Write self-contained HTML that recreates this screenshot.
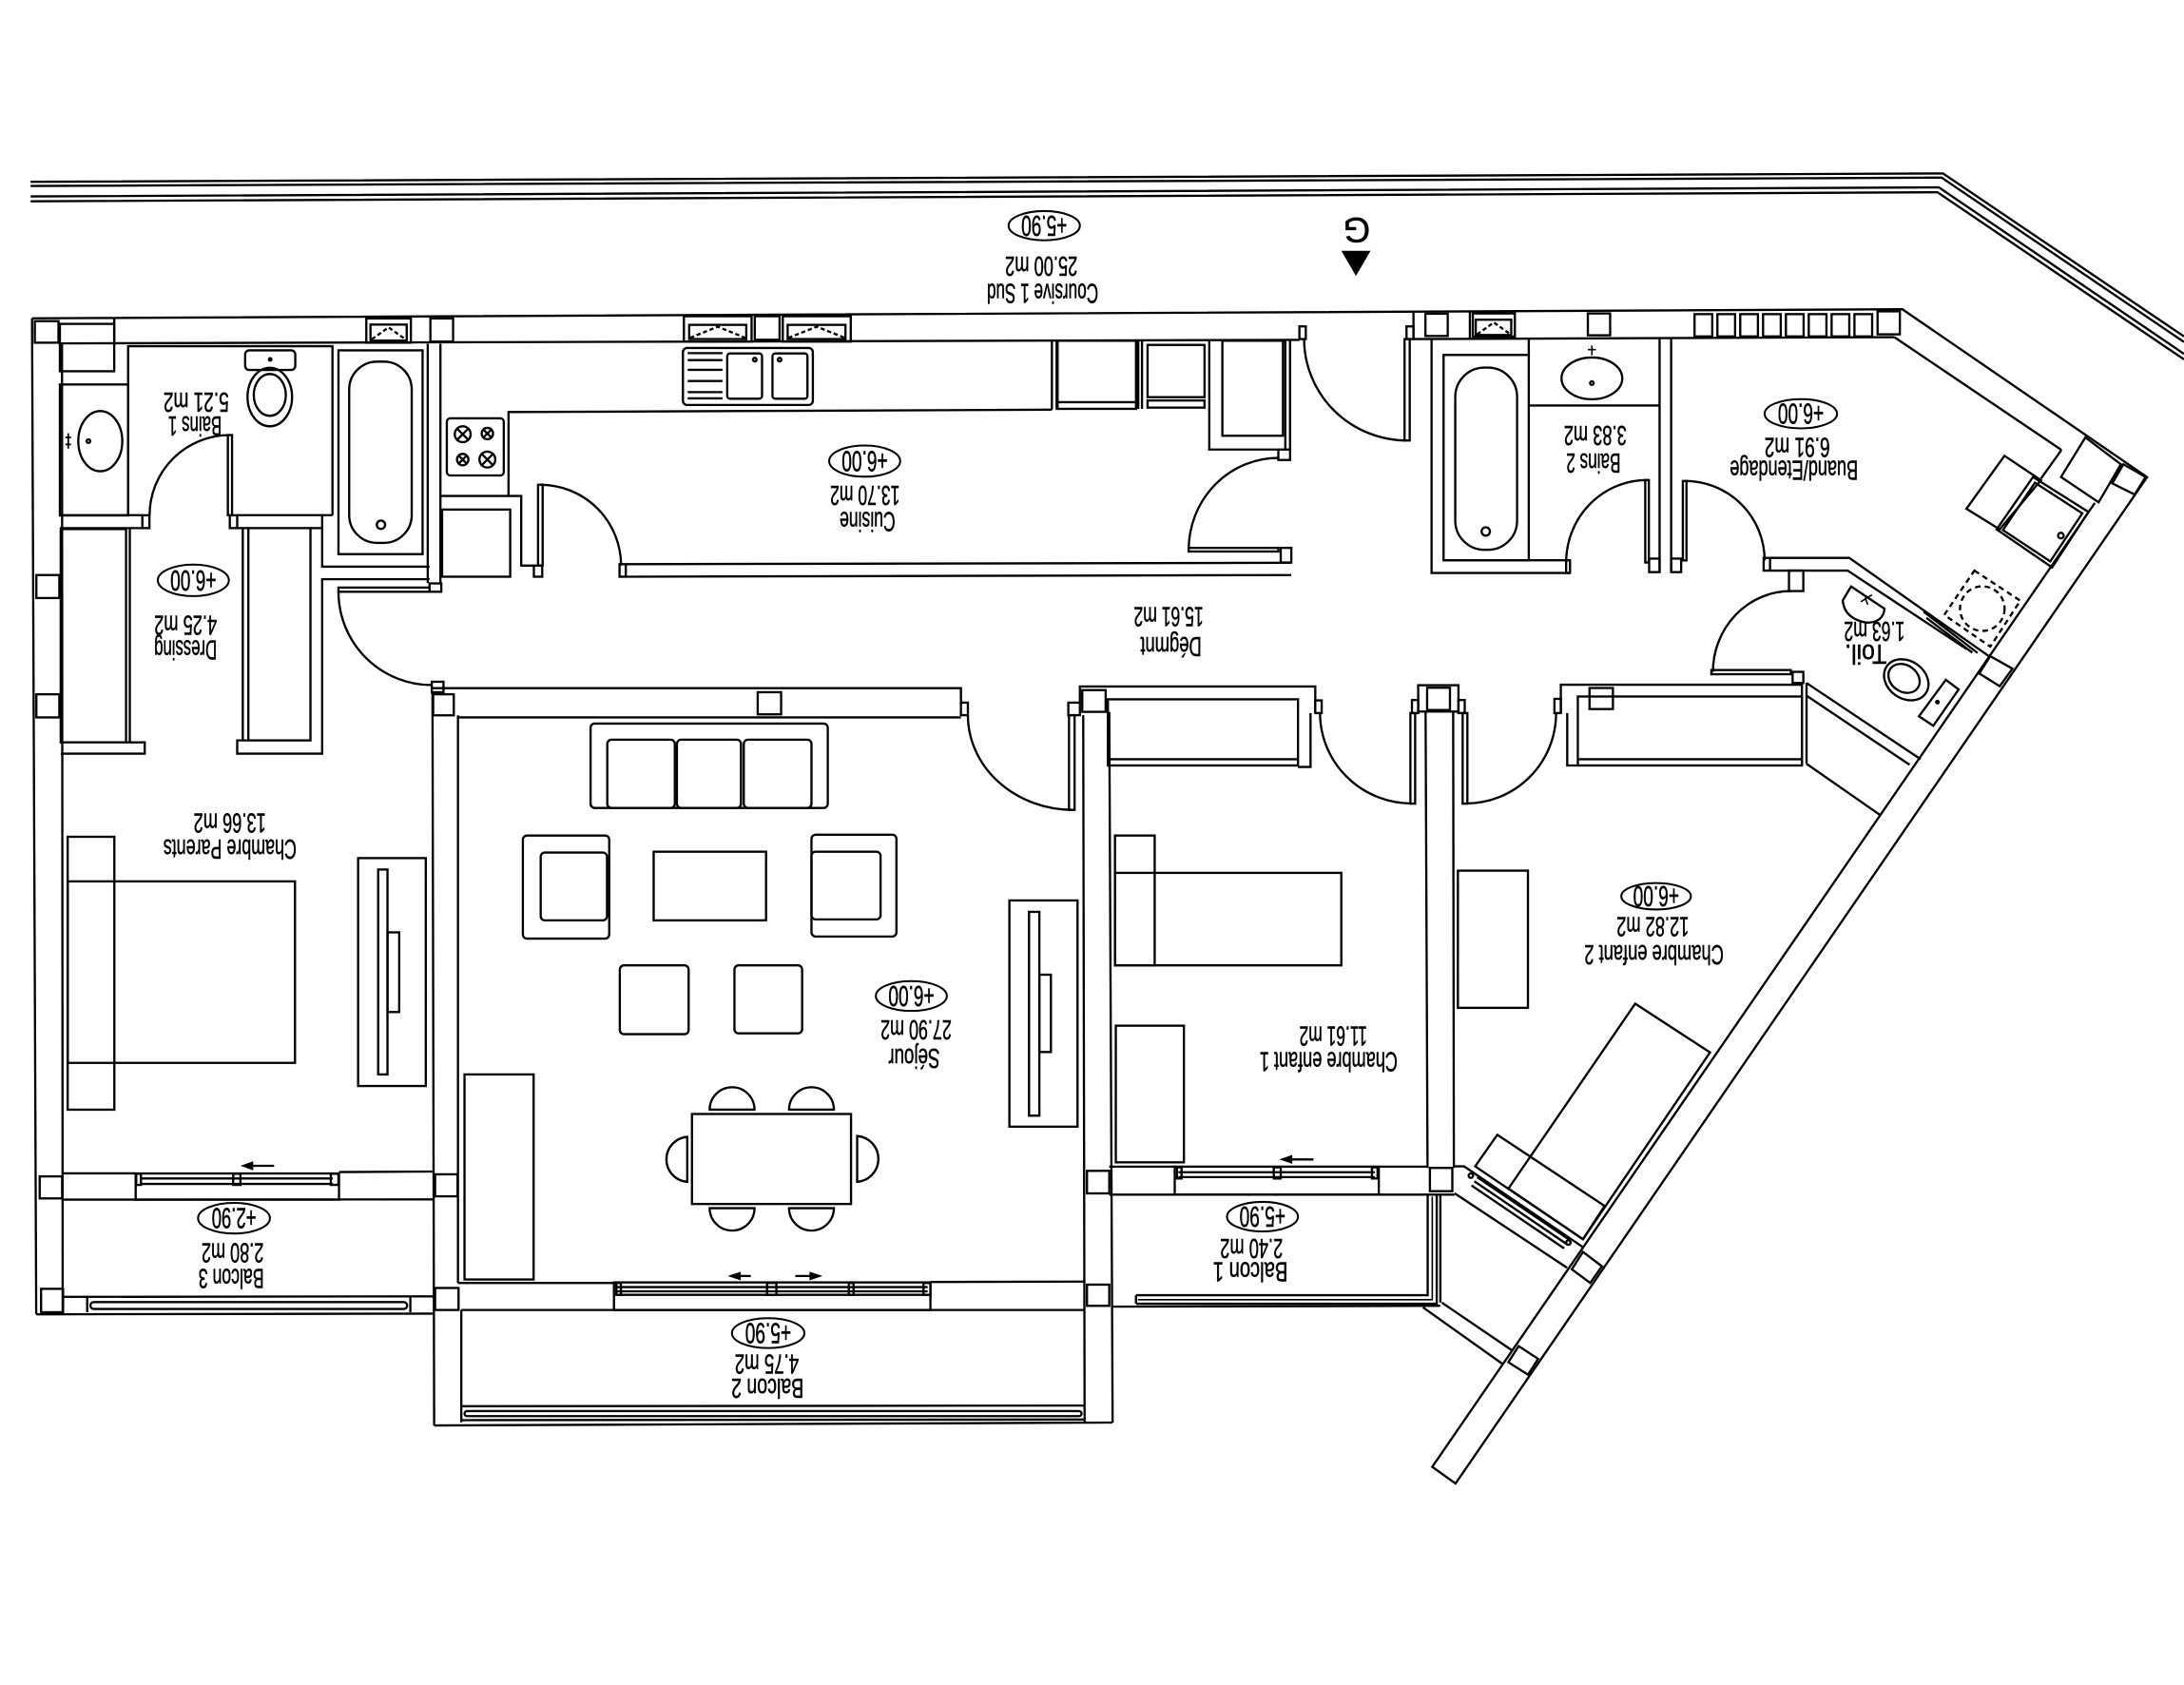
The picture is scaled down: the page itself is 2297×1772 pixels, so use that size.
<!DOCTYPE html>
<html><head><meta charset="utf-8">
<style>
html,body{margin:0;padding:0;background:#fff;}
svg{display:block;}
text{font-family:"Liberation Sans Narrow","Liberation Sans",sans-serif;fill:#000;stroke:#000;stroke-width:0.35;text-anchor:middle;dominant-baseline:central;}
</style></head><body>
<svg xmlns="http://www.w3.org/2000/svg" width="2297" height="1772" viewBox="0 0 1568 1209.6">
<rect width="1568" height="1209.6" fill="#fff"/>
<g fill="none" stroke="#000" stroke-width="1.6">
<!-- railing -->
<polyline points="22,130.5 1395,124.5 1568,241.5"/>
<polyline points="22,133.5 1394,127.5 1568,245.5"/>
<polyline points="22,141 1392,134.5 1568,254"/>
<polyline points="22,144.5 1391,138 1568,258"/>

<!-- outer shell -->
<polyline points="23,228.5 1365.8,222 1541.5,342.5 1045,1065 1028.3,1053 1504,361"/>
<line x1="23" y1="228.5" x2="26" y2="943.5"/>
<line x1="44.5" y1="246" x2="45" y2="942"/>
<line x1="26" y1="943.5" x2="311.7" y2="943"/>
<!-- top wall inner -->
<line x1="42" y1="246.5" x2="933" y2="244"/>
<line x1="1014.8" y1="243.4" x2="1360" y2="242"/>
<line x1="1360" y1="242" x2="1480" y2="323"/>
<line x1="1480" y1="323" x2="1465.3" y2="343.6"/>

<!-- columns -->
<rect x="25" y="230.5" width="17" height="15.5"/>
<rect x="26.1" y="412.8" width="16.5" height="16.5"/>
<rect x="26.1" y="498.4" width="16.5" height="16.6"/>
<rect x="28.5" y="844.5" width="16.1" height="15.8"/>
<rect x="29.5" y="925.2" width="15.8" height="16.8"/>
<rect x="309" y="228.6" width="16.3" height="16.6"/>
<rect x="311" y="498.4" width="14.8" height="15.1"/>
<rect x="312.4" y="843" width="16.1" height="15.8"/>
<rect x="312.4" y="924.6" width="16.8" height="15.8"/>
<rect x="541.9" y="227" width="17.8" height="16.9"/>
<rect x="544" y="496.9" width="16.8" height="15.9"/>
<rect x="777" y="495.4" width="16.8" height="15.6"/>
<rect x="780.4" y="840.5" width="16" height="16.2"/>
<rect x="780.4" y="922.2" width="16" height="15.2"/>
<rect x="1023.4" y="225.2" width="16" height="16"/>
<rect x="1018.2" y="491.9" width="28.9" height="18.9"/>
<rect x="1024.6" y="493.7" width="16.4" height="16"/>
<rect x="1026.6" y="838.4" width="16.1" height="16.7"/>
<rect x="1140" y="225" width="16" height="15.7"/>
<rect x="1141.2" y="493.9" width="16.8" height="15.1"/>
<rect x="1348" y="223.5" width="16" height="16.5"/>
<polygon points="1497.2,314 1522.7,333.3 1506.7,360.6 1479.7,342.4"/>
<polygon points="1524.5,333.3 1540.4,342.4 1532.6,355 1516.5,347"/>
<polygon points="1428.9,471 1444.8,480 1435.7,492.6 1421,483.5"/>
<polygon points="1136.5,898.7 1150.1,909 1141.7,921 1128.5,911.2"/>
<polygon points="1090.3,966.3 1104.3,975.5 1097,986.8 1082.9,977.9"/>

<!-- vents -->
<rect x="1216.6" y="225.5" width="12.7" height="16"/>
<rect x="1233" y="225.5" width="12.7" height="16"/>
<rect x="1249.4" y="225.5" width="12.7" height="16"/>
<rect x="1265.8" y="225.5" width="12.7" height="16"/>
<rect x="1282.2" y="225.5" width="12.7" height="16"/>
<rect x="1298.6" y="225.5" width="12.7" height="16"/>
<rect x="1315" y="225.5" width="12.7" height="16"/>
<rect x="1331.4" y="225.5" width="12.7" height="16"/>

<!-- top windows -->
<rect x="263" y="228.6" width="32" height="17.4"/>
<rect x="266" y="233" width="26" height="11.5"/>
<polyline points="267,243.5 279,235 291,243.5" stroke-dasharray="3,2"/>
<rect x="491" y="227" width="48.6" height="18.2"/>
<rect x="494.8" y="233.2" width="41" height="10.2"/>
<polyline points="495.5,242.5 515.3,234.5 535,242.5" stroke-dasharray="3,2"/>
<rect x="562" y="227" width="48.8" height="18.2"/>
<rect x="565.5" y="233.2" width="41.5" height="10.2"/>
<polyline points="566,242.5 586.4,234.5 606.5,242.5" stroke-dasharray="3,2"/>
<rect x="1057.4" y="225" width="30.2" height="16.6"/>
<rect x="1059.5" y="229.5" width="25.5" height="11"/>
<polyline points="1060.5,240 1072.5,231.5 1084.5,240" stroke-dasharray="3,2"/>
<line x1="82" y1="228" x2="82" y2="246.5"/>

<!-- Bains 1 -->
<polyline points="92,369.8 92,248.5 238.7,248.5 238.7,369.8"/>
<rect x="43" y="232.5" width="39" height="34"/>
<rect x="43" y="276" width="49" height="94"/>
<ellipse cx="72" cy="316.7" rx="15.8" ry="21.6"/>
<circle cx="63.5" cy="316.7" r="1.3"/>
<path d="M49,311 V322 M47,314 H51 M47,319 H51" stroke-width="1.2"/>
<rect x="176" y="251.5" width="36" height="14.1" rx="3"/>
<circle cx="194" cy="258" r="0.9" fill="#000"/>
<ellipse cx="193.7" cy="285" rx="16" ry="21"/>
<ellipse cx="193.7" cy="283.5" rx="11.5" ry="15"/>
<rect x="243" y="251.5" width="60.4" height="146.3"/>
<rect x="250.7" y="259.6" width="44.9" height="130.1" rx="20"/>
<circle cx="273.5" cy="376.7" r="3"/>
<polyline points="231.3,369.8 231.3,406.8 308.4,406.8"/>
<line x1="43" y1="369.8" x2="102.2" y2="369.8"/>
<line x1="43" y1="379.1" x2="102.2" y2="379.1"/>
<rect x="102.2" y="369.9" width="5.1" height="9.2"/>
<rect x="165" y="369.9" width="5.3" height="9.2"/>
<line x1="170.3" y1="369.8" x2="238.7" y2="369.8"/>
<line x1="170.3" y1="379.1" x2="178.3" y2="379.1"/>
<line x1="222.9" y1="379.1" x2="231.3" y2="379.1"/>
<rect x="163.6" y="312.3" width="3" height="57.6"/>
<path d="M165,312.3 A57.6,57.6 0 0 0 107.4,369.9"/>
<line x1="307.1" y1="246.8" x2="307.1" y2="418.6"/>
<line x1="316.2" y1="246.8" x2="316.2" y2="418.6"/>

<!-- Dressing -->
<rect x="43.6" y="379.8" width="46.9" height="153.1"/>
<line x1="93.2" y1="379.8" x2="93.2" y2="532.9"/>
<polyline points="90.5,532.9 103.9,532.9 103.9,541 43.6,541"/>
<rect x="178.3" y="379.1" width="44.6" height="152.4"/>
<line x1="174.3" y1="379.1" x2="174.3" y2="531.5"/>
<polyline points="178.3,531.5 170.3,531.5 170.3,541 231.3,541 231.3,415.8 308.4,415.8"/>
<!-- parents door -->
<rect x="308.4" y="418.8" width="8.4" height="6"/>
<rect x="310" y="489.4" width="8.4" height="7.5"/>
<rect x="243" y="421.8" width="65.4" height="3"/>
<path d="M243,424.8 A67,67 0 0 0 310,491.8"/>

<!-- Kitchen -->
<rect x="320.8" y="300.3" width="40.9" height="41" rx="2.5"/>
<circle cx="332.2" cy="311.7" r="5.7"/><path d="M328.2,307.7 L336.2,315.7 M336.2,307.7 L328.2,315.7"/>
<circle cx="349.9" cy="311.2" r="4.1"/><path d="M347,308.3 L352.8,314.1 M352.8,308.3 L347,314.1"/>
<circle cx="332.2" cy="329.9" r="4.1"/><path d="M329.3,327 L335.1,332.8 M335.1,327 L329.3,332.8"/>
<circle cx="349.9" cy="329.9" r="5.7"/><path d="M345.9,325.9 L353.9,333.9 M353.9,325.9 L345.9,333.9"/>
<polyline points="755.2,294.1 365.1,295.8 365.1,356 316.2,356"/>
<polyline points="365.1,356 374.2,356 374.2,406 383.3,406"/>
<rect x="317.4" y="365.8" width="48.9" height="48.2"/>
<rect x="383.3" y="406" width="6" height="8"/>
<rect x="386.3" y="348" width="3.3" height="58"/>
<path d="M387.9,348 A58,58 0 0 1 445.9,406"/>
<rect x="444.8" y="405" width="4.5" height="9"/>
<line x1="449.3" y1="405" x2="927" y2="404"/>
<line x1="449.3" y1="414" x2="927" y2="412.8"/>
<rect x="490.3" y="249.8" width="93.3" height="40.9" rx="3"/>
<path d="M493.7,253.5 H518.7 M493.7,258.5 H518.7 M493.7,265.5 H518.7 M493.7,273.5 H518.7 M493.7,281.5 H518.7 M493.7,286 H518.7"/>
<rect x="522.1" y="253.7" width="25" height="32.5" rx="2"/>
<rect x="554.6" y="253.7" width="25.1" height="32.5" rx="2"/>
<circle cx="541.9" cy="258.2" r="1.3"/>
<circle cx="559.7" cy="258.2" r="1.3"/>
<line x1="755.2" y1="244.6" x2="755.2" y2="294.1"/>
<line x1="758.6" y1="244.6" x2="758.6" y2="294.1"/>
<rect x="759.3" y="244.6" width="56.3" height="48.9"/>
<line x1="759.3" y1="288.7" x2="815.6" y2="288.7"/>
<line x1="817.2" y1="244.6" x2="817.2" y2="293.5"/>
<line x1="819.9" y1="244.6" x2="819.9" y2="293.5"/>
<rect x="823.9" y="247.6" width="40.9" height="37.5"/>
<rect x="823.9" y="287.5" width="40.9" height="5.1"/>
<polyline points="868.2,244.6 868.2,322.7 917.8,322.7"/>
<rect x="877.6" y="244.6" width="43.5" height="68.2"/>
<line x1="922.8" y1="244.6" x2="922.8" y2="322.7"/>
<line x1="926.2" y1="244.6" x2="926.2" y2="322.7"/>
<rect x="917.8" y="322.7" width="8.4" height="7.5"/>
<rect x="853.4" y="393.3" width="64.4" height="2.6"/>
<path d="M917.8,328.7 A64.4,66 0 0 0 853.4,394.8"/>
<rect x="919.5" y="393.3" width="7.6" height="10.5"/>

<!-- Entrance -->
<rect x="932.9" y="234.3" width="4.6" height="9.1"/>
<rect x="1009.8" y="234.3" width="5" height="9.1"/>
<line x1="1014.8" y1="223.4" x2="1014.8" y2="243.4"/>
<line x1="1055.3" y1="223.4" x2="1055.3" y2="243.4"/>
<rect x="1008.4" y="243.4" width="3.7" height="72.8"/>
<path d="M936.3,243.4 A74,72.8 0 0 0 1010.3,316.2"/>

<!-- Bains 2 -->
<polyline points="1027.8,243.4 1027.8,411.3 1127,411.3"/>
<rect x="1036.4" y="254.8" width="61.2" height="147.4"/>
<rect x="1044.8" y="263.9" width="44.4" height="130.8" rx="21"/>
<circle cx="1066.7" cy="381.5" r="3"/>
<line x1="1036.4" y1="402.2" x2="1124.4" y2="402.2"/>
<rect x="1124.4" y="402.2" width="2.8" height="9.1"/>
<line x1="1097.6" y1="242.5" x2="1097.6" y2="254.8"/>
<line x1="1097.6" y1="291.1" x2="1191.5" y2="291.1"/>
<ellipse cx="1142.9" cy="271.6" rx="21.8" ry="15"/>
<circle cx="1142.9" cy="275" r="1.3"/>
<path d="M1142.9,248 V255 M1140,251 H1145.8" stroke-width="1.1"/>
<line x1="1191.5" y1="242.5" x2="1191.5" y2="410.7"/>
<line x1="1199.8" y1="242.5" x2="1199.8" y2="410.7"/>
<rect x="1184" y="401" width="7.5" height="9.7"/>
<rect x="1199.8" y="401" width="7.2" height="9.7"/>
<rect x="1181.2" y="344.6" width="2.6" height="59.2"/>
<path d="M1182.4,344.6 A58,59.2 0 0 0 1124.4,403.8"/>
<rect x="1208.2" y="345.3" width="2.6" height="57"/>
<path d="M1209.9,345.3 A57,57 0 0 1 1266.9,402.3"/>

<!-- Buand / toilet -->
<rect x="1266.2" y="400.5" width="4.6" height="9.1"/>
<polyline points="1270.8,400.5 1327.7,400.5 1428.3,471.3"/>
<polyline points="1270.8,409.6 1326.5,409.6 1412,466"/>
<rect x="1284.4" y="409.6" width="10.3" height="14.7"/>
<line x1="1381.1" y1="439.1" x2="1419.8" y2="468.7"/>
<line x1="1383" y1="443.5" x2="1416" y2="468.5"/>
<polygon points="1439.1,327.2 1465.3,344.7 1435.7,380 1411.8,365.2"/>
<polygon points="1459.6,342.4 1499.4,367.5 1473.3,407.3 1433.5,380"/>
<polygon points="1461,346.5 1495,368.5 1472,403 1438,380.5"/>
<circle cx="1479.6" cy="384.5" r="2"/>
<polygon points="1417.5,409.6 1450.5,431.2 1428.9,464.2 1395.9,441.4" stroke-dasharray="4,3"/>
<circle cx="1423.2" cy="436.9" r="16" stroke-dasharray="4,3"/>
<rect x="1228.7" y="481" width="57" height="3"/>
<path d="M1229.8,482.3 A56,58 0 0 1 1285.6,424.3"/>
<rect x="1287" y="482.3" width="7.7" height="8"/>
<path d="M1329,421 L1353,437 Q1352,447 1340,447 Q1324,444 1323,431 Z"/>
<path d="M1336,432 L1344,427 M1339,429 L1341,434" stroke-width="1.1"/>
<ellipse cx="1368.6" cy="488" rx="17" ry="13.5" transform="rotate(35 1368.6 488)"/>
<ellipse cx="1367" cy="487" rx="12" ry="9.5" transform="rotate(35 1367 487)"/>
<polygon points="1377.7,514.2 1397,488 1406.2,494.9 1388,521"/>
<circle cx="1391" cy="504" r="0.9" fill="#000"/>
<line x1="1293.7" y1="490.3" x2="1293.7" y2="549.5"/>
<line x1="1297" y1="490.3" x2="1297" y2="548.3"/>
<line x1="1297" y1="490.3" x2="1378.9" y2="545"/>
<line x1="1297" y1="499.4" x2="1371" y2="549"/>
<line x1="1297" y1="548.3" x2="1349.3" y2="584.7"/>

<!-- Chambre enfant 2 top -->
<rect x="1116" y="501.7" width="4.6" height="10.2"/>
<polyline points="1120.6,511.9 1120.6,491.5 1293.7,491.5"/>
<polyline points="1125.2,511.9 1125.2,549.5 1132.8,549.5"/>
<rect x="1132.8" y="500" width="160.9" height="49.5"/>
<line x1="1132.8" y1="545" x2="1293.7" y2="545"/>
<rect x="1050.1" y="511.9" width="3.4" height="65"/>
<path d="M1052.4,576.8 A64.8,64.9 0 0 0 1117.2,511.9"/>
<rect x="1047.1" y="502.5" width="4.5" height="9.4"/>
<rect x="1013.7" y="502.5" width="4.5" height="9.4"/>
<line x1="1023.5" y1="510.8" x2="1024.9" y2="838.4"/>
<line x1="1043.3" y1="510.8" x2="1043.8" y2="838.4"/>

<!-- Chambre enfant 1 top -->
<rect x="767" y="504.4" width="8.3" height="9"/>
<polyline points="775.3,504.4 775.3,492.8 944.3,492.8 944.3,511.9"/>
<rect x="944.3" y="502.8" width="4.6" height="9.1"/>
<rect x="795.4" y="502" width="136.5" height="47.5"/>
<line x1="795.4" y1="545" x2="931.9" y2="545"/>
<polyline points="931.9,550.6 940.9,550.6 940.9,511.9"/>
<rect x="1012.6" y="511.9" width="3.4" height="65"/>
<path d="M947.7,511.9 A66,65 0 0 0 1013.7,576.8"/>

<!-- Séjour walls -->
<line x1="310.5" y1="496.9" x2="311.7" y2="1023.3"/>
<line x1="328.8" y1="513.5" x2="328.8" y2="921"/>
<line x1="331.2" y1="940.4" x2="331.2" y2="1021"/>
<polyline points="310.5,494 689.9,494 689.9,504.4"/>
<line x1="328.8" y1="515" x2="689.9" y2="515"/>
<rect x="689.9" y="504.4" width="5" height="9"/>
<rect x="767.5" y="513.4" width="4" height="68"/>
<path d="M694.9,513.4 A75.6,68 0 0 0 770.5,581.4"/>
<line x1="777.7" y1="513.4" x2="778.7" y2="1021.2"/>
<line x1="796.4" y1="511" x2="798.8" y2="1021.2"/>
<!-- séjour bottom wall + window -->
<line x1="328.8" y1="921" x2="440.8" y2="921"/>
<line x1="668" y1="920.3" x2="778" y2="920"/>
<line x1="331.2" y1="940.4" x2="778" y2="940.4"/>
<rect x="440.8" y="920.6" width="227.2" height="19.8"/>
<line x1="443" y1="924" x2="666" y2="924"/>
<line x1="443" y1="927" x2="666" y2="927"/>
<line x1="443" y1="929.5" x2="666" y2="929.5"/>
<rect x="442.5" y="921" width="3.3" height="8.5"/>
<rect x="550.7" y="921" width="6.7" height="8.5"/>
<rect x="609.4" y="921" width="3.4" height="8.5"/>
<rect x="663" y="921" width="5" height="8.5"/>
<line x1="526" y1="916" x2="539" y2="916"/>
<polygon points="525,916 531,914 531,918" fill="#000"/>
<line x1="571" y1="916" x2="586" y2="916"/>
<polygon points="588,916 582,914 582,918" fill="#000"/>
<!-- balcon 2 -->
<line x1="311.7" y1="1023.3" x2="798.8" y2="1021.2"/>
<line x1="331.2" y1="1009.5" x2="778.5" y2="1009"/>
<line x1="331.2" y1="1019.5" x2="778.5" y2="1019"/>
<rect x="333.5" y="1013" width="443" height="3.6" rx="1.8"/>

<!-- Chambre parents bottom -->
<line x1="44.5" y1="842.3" x2="97.4" y2="842.3"/>
<line x1="243.4" y1="841.4" x2="311" y2="841"/>
<line x1="44.5" y1="861.2" x2="312" y2="861"/>
<rect x="97.4" y="842.4" width="146" height="18.8"/>
<line x1="101.2" y1="846" x2="238.9" y2="846"/>
<line x1="101.2" y1="849.9" x2="238.9" y2="849.9"/>
<rect x="97.8" y="842.6" width="3.4" height="8"/>
<rect x="167.4" y="842.6" width="5.2" height="8"/>
<rect x="237.5" y="842.6" width="5.5" height="8"/>
<line x1="177" y1="836.9" x2="196.8" y2="836.9"/>
<polygon points="175,836.9 181,834.8 181,839" fill="#000"/>
<!-- balcon 3 -->
<line x1="45" y1="931" x2="311.7" y2="930.6"/>
<line x1="62.6" y1="931.3" x2="62.6" y2="942"/>
<line x1="294.6" y1="931" x2="294.6" y2="942"/>
<rect x="64.9" y="934.7" width="227.4" height="5" rx="2.5"/>

<!-- Chambre enfant 1 bottom -->
<line x1="796.4" y1="837.5" x2="843.4" y2="837.5"/>
<line x1="989.9" y1="837.5" x2="1024.9" y2="837.5"/>
<line x1="796.4" y1="857.6" x2="1044.3" y2="857.6"/>
<rect x="843.4" y="837.5" width="146.5" height="20.1"/>
<line x1="846" y1="841.5" x2="987" y2="841.5"/>
<line x1="846" y1="845" x2="987" y2="845"/>
<rect x="845" y="838" width="3.3" height="8"/>
<rect x="914.5" y="838" width="5" height="8"/>
<rect x="985" y="838" width="4" height="8"/>
<line x1="923" y1="832.3" x2="943" y2="832.3"/>
<polygon points="921,832.3 927,830.2 927,834.4" fill="#000"/>
<!-- balcon 1 -->
<line x1="798.8" y1="938" x2="1034" y2="937.4"/>
<polyline points="815.6,929.8 1025,929.8 1025,857.6"/>
<polyline points="815.6,935.9 1031.5,935.9 1031.5,857.6"/>
<line x1="815.6" y1="929.8" x2="815.6" y2="935.9"/>
<polyline points="817,933 1028.3,933 1028.3,859" stroke-width="1.1"/>
<line x1="1034.1" y1="857.8" x2="1034.1" y2="935"/>
<line x1="1035.2" y1="935.1" x2="1085.7" y2="969.5"/>
<line x1="1021.6" y1="938.5" x2="1079" y2="979.3"/>

<!-- enfant 2 window wall -->
<polyline points="1044.3,837.3 1051.2,837.3 1136.5,895.3"/>
<line x1="1044.3" y1="856.6" x2="1125.1" y2="910.1"/>
<line x1="1060.5" y1="845" x2="1127" y2="890.2"/>
<line x1="1058.5" y1="848" x2="1125" y2="893.2"/>
<line x1="1056.5" y1="851" x2="1123" y2="896.2"/>
<circle cx="1056" cy="844" r="1.6"/>
<circle cx="1126" cy="892" r="1.6"/>

<!-- Chambre parents furniture -->
<rect x="48.6" y="600.7" width="33.5" height="195.9"/>
<rect x="48.6" y="632.7" width="163.2" height="130.3"/>
<rect x="257.1" y="616" width="48.6" height="163.6"/>
<rect x="271.5" y="624.2" width="6.7" height="147.1"/>
<rect x="278.2" y="669.3" width="8.4" height="57.2"/>

<!-- Séjour furniture -->
<rect x="424" y="519.4" width="170.3" height="60.6" rx="3"/>
<rect x="436" y="531" width="48.5" height="49" rx="3"/>
<rect x="486" y="531" width="46" height="49" rx="3"/>
<rect x="534" y="531" width="48.6" height="49" rx="3"/>
<rect x="375.4" y="599.8" width="62" height="74" rx="3"/>
<rect x="388.2" y="612" width="47.6" height="48.7" rx="3"/>
<rect x="582.6" y="599.2" width="61" height="73.1" rx="3"/>
<rect x="582.6" y="611.4" width="49.6" height="48.6" rx="3"/>
<rect x="469.3" y="611.4" width="80.7" height="49.3"/>
<rect x="445" y="693" width="49.4" height="49.4" rx="3"/>
<rect x="527.3" y="693" width="48.6" height="48.8" rx="3"/>
<rect x="496.8" y="799.7" width="114.2" height="64.6"/>
<path d="M509.5,796.6 A16.1,16.1 0 0 1 541.7,796.6 Z"/>
<path d="M566.5,796.6 A16.1,16.1 0 0 1 598.7,796.6 Z"/>
<path d="M509.5,867.3 A16.1,16.1 0 0 0 541.7,867.3 Z"/>
<path d="M566.5,867.3 A16.1,16.1 0 0 0 598.7,867.3 Z"/>
<path d="M493.4,816.1 A16.2,16.2 0 0 0 493.4,848.4 Z"/>
<path d="M615.4,815.5 A16.5,16.5 0 0 1 615.4,848.4 Z"/>
<rect x="724.7" y="646.4" width="48.9" height="162.4"/>
<rect x="738.8" y="654.6" width="7.4" height="146.3"/>
<rect x="746.2" y="699.7" width="8.3" height="55.5"/>
<rect x="333.5" y="771.3" width="49.6" height="147.2"/>

<!-- Enfant 1 furniture -->
<rect x="800.5" y="626.6" width="162.5" height="66.4"/>
<rect x="800.5" y="599.8" width="28.5" height="93.2"/>
<rect x="801.1" y="736.3" width="48.9" height="98.1"/>

<!-- Enfant 2 furniture -->
<rect x="1046.7" y="625" width="50.3" height="98.5"/>
<polygon points="1174,720.5 1227.7,755.5 1136.5,889.6 1083,853.2"/>
<polygon points="1059.1,837.3 1075,814.6 1152,865.7 1136.5,889.6"/>

<!-- label ellipses -->
<g stroke-width="1.4">
<ellipse cx="749.7" cy="162" rx="25.6" ry="10.5"/>
<ellipse cx="620.8" cy="331" rx="25.5" ry="11.2"/>
<ellipse cx="138.8" cy="416.6" rx="25.5" ry="11.3"/>
<ellipse cx="1292.9" cy="297" rx="26" ry="10.5"/>
<ellipse cx="168" cy="874.5" rx="25.8" ry="11"/>
<ellipse cx="654.3" cy="715" rx="25.5" ry="10.7"/>
<ellipse cx="906.4" cy="873.4" rx="25.5" ry="10.6"/>
<ellipse cx="551.5" cy="957" rx="26" ry="10.7"/>
<ellipse cx="1189" cy="643.4" rx="25" ry="9.5"/>
</g>
</g>
<polygon points="963,180 984,180 973.5,198" fill="#000"/>

<!-- texts (upside down) -->
<g font-size="19.5">
<text x="974" y="165" font-size="25" transform="rotate(180 974 165)">G</text>
<text x="749.7" y="162" font-size="21" textLength="33" lengthAdjust="spacingAndGlyphs" transform="rotate(180 749.7 162)">+5.90</text>
<text x="747.6" y="190.5" textLength="52" lengthAdjust="spacingAndGlyphs" transform="rotate(180 747.6 190.5)">25.00 m2</text>
<text x="748.5" y="210" textLength="80" lengthAdjust="spacingAndGlyphs" transform="rotate(180 748.5 210)">Coursive 1 Sud</text>

<text x="620.8" y="331" font-size="21" textLength="33" lengthAdjust="spacingAndGlyphs" transform="rotate(180 620.8 331)">+6.00</text>
<text x="621" y="355" textLength="50" lengthAdjust="spacingAndGlyphs" transform="rotate(180 621 355)">13.70 m2</text>
<text x="622.8" y="373.7" textLength="40" lengthAdjust="spacingAndGlyphs" transform="rotate(180 622.8 373.7)">Cuisine</text>

<text x="839" y="442" textLength="50" lengthAdjust="spacingAndGlyphs" transform="rotate(180 839 442)">15.61 m2</text>
<text x="840.7" y="463.6" textLength="44" lengthAdjust="spacingAndGlyphs" transform="rotate(180 840.7 463.6)">Dégmnt</text>

<text x="140.8" y="288" textLength="47" lengthAdjust="spacingAndGlyphs" transform="rotate(180 140.8 288)">5.21 m2</text>
<text x="140" y="305" textLength="38.5" lengthAdjust="spacingAndGlyphs" transform="rotate(180 140 305)">Bains 1</text>

<text x="138.8" y="416.6" font-size="21" textLength="33" lengthAdjust="spacingAndGlyphs" transform="rotate(180 138.8 416.6)">+6.00</text>
<text x="133.2" y="448" textLength="45" lengthAdjust="spacingAndGlyphs" transform="rotate(180 133.2 448)">4.25 m2</text>
<text x="133.2" y="466" textLength="45" lengthAdjust="spacingAndGlyphs" transform="rotate(180 133.2 466)">Dressing</text>

<text x="1145.3" y="312" textLength="45" lengthAdjust="spacingAndGlyphs" transform="rotate(180 1145.3 312)">3.83 m2</text>
<text x="1144" y="331.7" textLength="39" lengthAdjust="spacingAndGlyphs" transform="rotate(180 1144 331.7)">Bains 2</text>

<text x="1292.9" y="297" font-size="21" textLength="33" lengthAdjust="spacingAndGlyphs" transform="rotate(180 1292.9 297)">+6.00</text>
<text x="1290.3" y="320.5" textLength="47" lengthAdjust="spacingAndGlyphs" transform="rotate(180 1290.3 320.5)">6.91 m2</text>
<text x="1287.9" y="337" textLength="92" lengthAdjust="spacingAndGlyphs" transform="rotate(180 1287.9 337)">Buand/Etendage</text>

<text x="1345.7" y="452.6" textLength="43.6" lengthAdjust="spacingAndGlyphs" transform="rotate(180 1345.7 452.6)">1.63 m2</text>
<text x="1339.5" y="469" textLength="30" lengthAdjust="spacingAndGlyphs" transform="rotate(180 1339.5 469)">Toil.</text>

<text x="165" y="590" textLength="52" lengthAdjust="spacingAndGlyphs" transform="rotate(180 165 590)">13.66 m2</text>
<text x="165.1" y="609" textLength="95.6" lengthAdjust="spacingAndGlyphs" transform="rotate(180 165.1 609)">Chambre Parents</text>

<text x="168" y="874.5" font-size="21" textLength="32" lengthAdjust="spacingAndGlyphs" transform="rotate(180 168 874.5)">+2.90</text>
<text x="167" y="898.5" textLength="44.6" lengthAdjust="spacingAndGlyphs" transform="rotate(180 167 898.5)">2.80 m2</text>
<text x="166" y="917" textLength="47" lengthAdjust="spacingAndGlyphs" transform="rotate(180 166 917)">Balcon 3</text>

<text x="654.3" y="715" font-size="21" textLength="33" lengthAdjust="spacingAndGlyphs" transform="rotate(180 654.3 715)">+6.00</text>
<text x="657.7" y="738.5" textLength="51" lengthAdjust="spacingAndGlyphs" transform="rotate(180 657.7 738.5)">27.90 m2</text>
<text x="656.3" y="759" textLength="37" lengthAdjust="spacingAndGlyphs" transform="rotate(180 656.3 759)">Séjour</text>

<text x="957.2" y="743" textLength="48.6" lengthAdjust="spacingAndGlyphs" transform="rotate(180 957.2 743)">11.61 m2</text>
<text x="953.9" y="761.4" textLength="99" lengthAdjust="spacingAndGlyphs" transform="rotate(180 953.9 761.4)">Chambre enfant 1</text>

<text x="906.4" y="873.4" font-size="21" textLength="33" lengthAdjust="spacingAndGlyphs" transform="rotate(180 906.4 873.4)">+5.90</text>
<text x="898.5" y="895.5" textLength="45" lengthAdjust="spacingAndGlyphs" transform="rotate(180 898.5 895.5)">2.40 m2</text>
<text x="897.7" y="912.2" textLength="53.6" lengthAdjust="spacingAndGlyphs" transform="rotate(180 897.7 912.2)">Balcon 1</text>

<text x="551.5" y="957" font-size="21" textLength="33" lengthAdjust="spacingAndGlyphs" transform="rotate(180 551.5 957)">+5.90</text>
<text x="550.5" y="978.5" textLength="46" lengthAdjust="spacingAndGlyphs" transform="rotate(180 550.5 978.5)">4.75 m2</text>
<text x="551" y="996" textLength="52" lengthAdjust="spacingAndGlyphs" transform="rotate(180 551 996)">Balcon 2</text>

<text x="1189" y="643.4" font-size="21" textLength="33" lengthAdjust="spacingAndGlyphs" transform="rotate(180 1189 643.4)">+6.00</text>
<text x="1186.6" y="664.7" textLength="52" lengthAdjust="spacingAndGlyphs" transform="rotate(180 1186.6 664.7)">12.82 m2</text>
<text x="1187.5" y="684.5" textLength="100" lengthAdjust="spacingAndGlyphs" transform="rotate(180 1187.5 684.5)">Chambre enfant 2</text>
</g>
</svg>
</body></html>
